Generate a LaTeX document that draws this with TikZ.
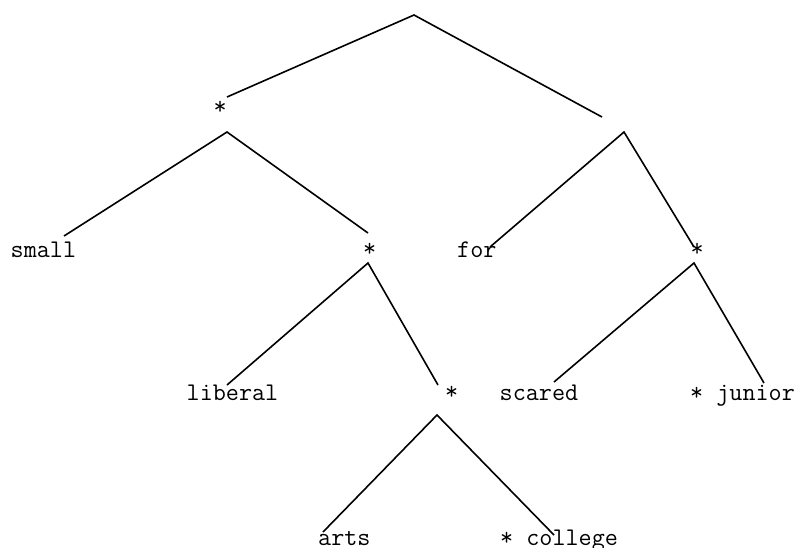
\documentclass[tikz,border=0pt]{standalone}
\usepackage{tikz}
\usetikzlibrary{positioning}
\begin{document}
\begin{tikzpicture}[
  x=1pt, y=-1pt,
  every node/.style={font=\ttfamily\fontsize{25.4}{30}\selectfont, inner sep=0pt, anchor=base west},
  branch/.style={line width=1.6pt},
]
\useasboundingbox (0,0) rectangle (799,547);
% words and stars
\node (star1) at (213.3,114) {*};
\node (small) at (10.5,257) {small};
\node (star2) at (362.8,256) {*};
\node (for) at (457,257) {for};
\node (star3) at (690.3,256) {*};
\node (liberal) at (186.5,400) {liberal};
\node (star4) at (444.8,399) {*};
\node (scared) at (499.5,400) {scared};
\node (junior) at (690,400) {* junior};
\node (arts) at (318,545) {arts};
\node (college) at (500,545) {* college};
% branch points
\coordinate (top) at (414,15);
\coordinate (top-l) at (227,97);
\coordinate (top-r) at (602,117);
\coordinate (a1) at (227,132);
\coordinate (a1-l) at (64,236);
\coordinate (a1-r) at (368,233);
\coordinate (a2) at (624,132);
\coordinate (a2-l) at (490,247);
\coordinate (a2-r) at (694,247);
\coordinate (a3) at (368,263);
\coordinate (a3-l) at (227,385);
\coordinate (a3-r) at (438,385);
\coordinate (a4) at (694,263);
\coordinate (a4-l) at (554,382);
\coordinate (a4-r) at (764,383);
\coordinate (a5) at (437,415);
\coordinate (a5-l) at (323,532);
\coordinate (a5-r) at (554,535);
\draw[branch] (top-l) -- (top) -- (top-r);
\draw[branch] (a1-l) -- (a1) -- (a1-r);
\draw[branch] (a2-l) -- (a2) -- (a2-r);
\draw[branch] (a3-l) -- (a3) -- (a3-r);
\draw[branch] (a4-l) -- (a4) -- (a4-r);
\draw[branch] (a5-l) -- (a5) -- (a5-r);
\end{tikzpicture}
\end{document}
